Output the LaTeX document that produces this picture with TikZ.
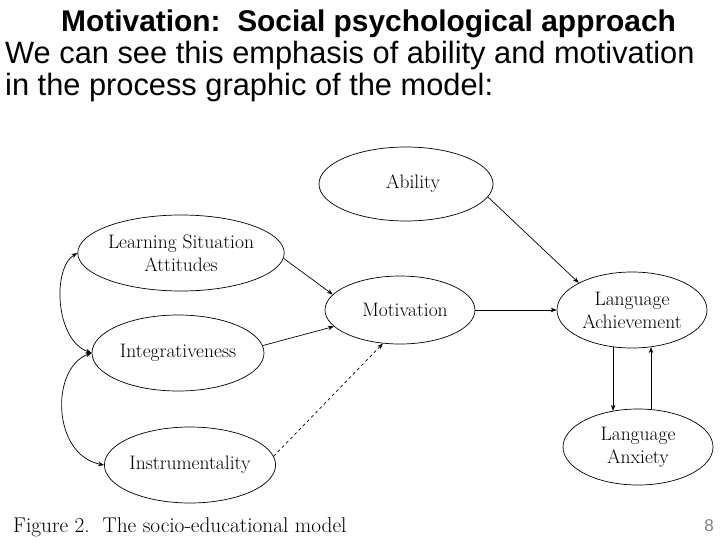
\documentclass[tikz,border=0pt]{standalone}
\usepackage{fontspec}
\setsansfont{Liberation Sans}
\usetikzlibrary{shapes.geometric,arrows.meta,calc}
\begin{document}
\begin{tikzpicture}[x=1pt,y=-1pt,
  oval/.style={draw,ellipse,line width=0.7pt,inner sep=0pt,align=center,
    font=\fontsize{19.5}{23}\selectfont},
  conn/.style={line width=0.7pt,-{Stealth[length=6pt,width=4.5pt]}},
  both/.style={line width=0.7pt,{Stealth[length=6pt,width=4.5pt]}-{Stealth[length=6pt,width=4.5pt]}},
  txt/.style={inner sep=0pt,anchor=base west}]
\useasboundingbox[fill=white] (0,0) rectangle (728,546);
% texts
\node[txt,font=\sffamily\bfseries\fontsize{29.9}{34}\selectfont] (title) at (61,31) {Motivation:\ \ Social psychological approach};
\node[txt,font=\sffamily\fontsize{30.8}{34}\selectfont] (l1) at (5,63) {We can see this emphasis of ability and motivation};
\node[txt,font=\sffamily\fontsize{30.8}{34}\selectfont] (l2) at (5,95) {in the process graphic of the model:};
\node[txt,font=\fontsize{21.3}{24}\selectfont] (cap) at (13,532) {Figure 2.\ \ The socio-educational model};
\node[inner sep=0pt,anchor=base east,text=black!50,font=\sffamily\fontsize{17}{20}\selectfont] (pg) at (714,531) {8};
% ellipses
\node[oval,minimum width=174pt,minimum height=74pt] (abi) at (406,184) {\hspace*{14pt}Ability};
\node[oval,minimum width=192pt,minimum height=76pt] (lsa) at (181,253) {Learning Situation\\Attitudes};
\node[oval,minimum width=150pt,minimum height=68pt] (mot) at (400,310) {\hspace*{10pt}Motivation};
\node[oval,minimum width=172pt,minimum height=76pt] (int) at (178,353) {Integrativeness};
\node[oval,minimum width=164pt,minimum height=76pt] (ins) at (190,465) {Instrumentality};
\node[oval,minimum width=150pt,minimum height=76pt] (la) at (632,310) {Language\\Achievement};
\node[oval,minimum width=150pt,minimum height=76pt] (anx) at (638,447) {Language\\Anxiety};
% connectors
\draw[conn] (lsa.-3) -- (mot.167);
\draw[conn] (int.5) -- (mot.194);
\draw[conn,dashed] (ins.6) -- (mot.243);
\draw[conn] (abi.-9) -- (la.153);
\draw[conn] (mot.east) -- (la.west);
\draw[conn] (la.-117) -- (anx.125 -| la.-117);
\draw[conn] (anx.71) -- (la.-63 -| anx.71);
\draw[both] (lsa.west) .. controls (52,268) and (55,340) .. (int.west);
\draw[both] (int.west) .. controls (50,368) and (52,455) .. (ins.west);
\end{tikzpicture}
\end{document}
